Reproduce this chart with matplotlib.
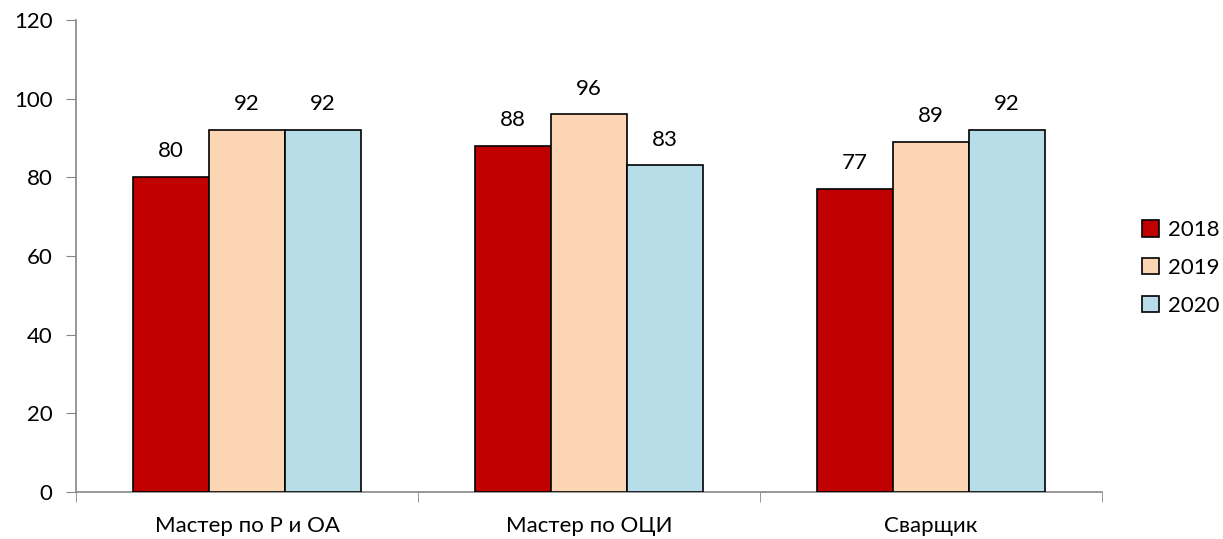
import numpy as np
import matplotlib.pyplot as plt

plt.rcParams['font.family'] = ['Lato', 'DejaVu Sans']

categories = ['Мастер по Р и ОА', 'Мастер по ОЦИ', 'Сварщик']
years = ['2018', '2019', '2020']
v2018 = [80, 88, 77]
v2019 = [92, 96, 89]
v2020 = [92, 83, 92]
colors = ['#C00000', '#FCD5B5', '#B7DEE8']

fig = plt.figure(figsize=(12.23, 5.39), dpi=100)
ax = fig.add_axes([0.0621, 0.0872, 0.839, 0.876])

x = np.arange(len(categories))
w = 0.222
fs = 16
for i, (vals, lab) in enumerate(zip([v2018, v2019, v2020], years)):
    bars = ax.bar(x + (i - 1) * w, vals, w, color=colors[i], edgecolor='black',
                  linewidth=1.2, label=lab, zorder=3)
    for b, v in zip(bars, vals):
        ax.text(b.get_x() + b.get_width() / 2, v + 4, str(v), ha='center',
                va='bottom', fontsize=fs)

ax.set_xlim(-0.5, 2.5)
ax.set_ylim(0, 120)
ax.set_yticks(range(0, 121, 20))
ax.set_xticks(x)
ax.set_xticklabels(categories, fontsize=fs)
ax.set_xticks([-0.5, 0.5, 1.5, 2.5], minor=True)
ax.tick_params(axis='x', which='major', length=0, pad=17)
ax.tick_params(axis='x', which='minor', length=7, color='#868686', direction='out')
ax.tick_params(axis='y', length=7, color='#868686', labelsize=fs, pad=10)
for s in ['top', 'right']:
    ax.spines[s].set_visible(False)
for s in ['left', 'bottom']:
    ax.spines[s].set_color('#868686')
    ax.spines[s].set_linewidth(1.2)

fig.legend(loc='center left', bbox_to_anchor=(1142 / 1223, 1 - 268 / 539),
           frameon=False, fontsize=fs, handlelength=0.75, handleheight=0.75,
           handletextpad=0.4, labelspacing=0.8, borderaxespad=0, borderpad=0)

fig.savefig('out.png', dpi=100)
